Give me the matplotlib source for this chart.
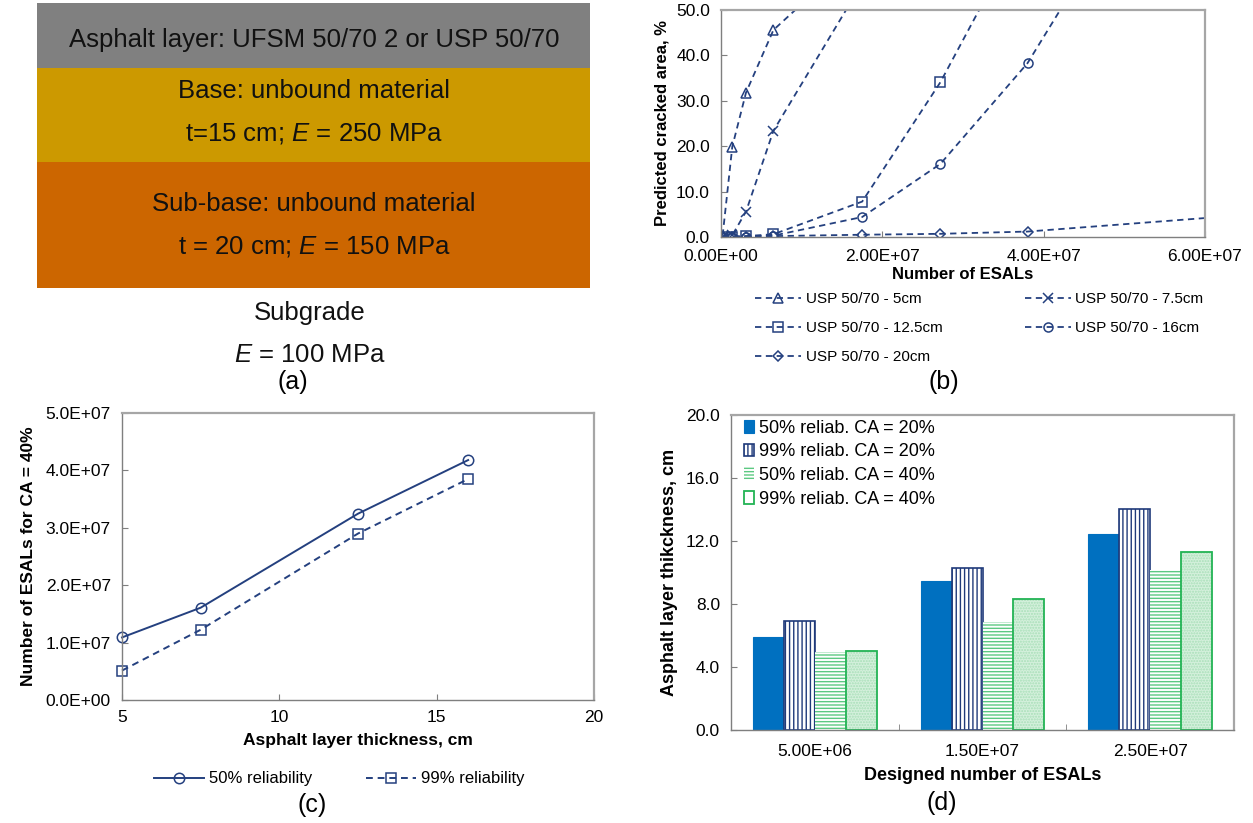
import matplotlib.pyplot as plt
from matplotlib.patches import Rectangle
from matplotlib.ticker import FuncFormatter, FixedLocator

plt.rcParams["font.family"] = ["Liberation Sans", "DejaVu Sans"]
plt.rcParams["mathtext.fontset"] = "custom"
plt.rcParams["mathtext.rm"] = "Liberation Sans"
plt.rcParams["mathtext.it"] = "Liberation Sans:italic"
plt.rcParams["hatch.linewidth"] = 1.0

# (a) pavement structure
layer_labels = [
    ["Asphalt layer: UFSM 50/70 2 or USP 50/70"],
    ["Base: unbound material", "t=15 cm; $E$ = 250 MPa"],
    ["Sub-base: unbound material", "t = 20 cm; $E$ = 150 MPa"],
]
layer_colors = ["#808080", "#CC9900", "#CC6600"]
subgrade_labels = ["Subgrade", "$E$ = 100 MPa"]

# (b) predicted cracked area vs ESALs
series_b = ["USP 50/70 - 5cm", "USP 50/70 - 7.5cm", "USP 50/70 - 12.5cm",
            "USP 50/70 - 16cm", "USP 50/70 - 20cm"]
esal_5cm = [2e5, 1.4e6, 3.1e6, 6.5e6, 1.75e7]
ca_5cm = [0.3, 19.9, 31.8, 45.6, 63.5]
esal_7_5cm = [2e5, 1.4e6, 3.1e6, 6.5e6, 1.75e7]
ca_7_5cm = [0.1, 0.4, 5.6, 23.4, 55.9]
esal_12_5cm = [2e5, 1.4e6, 3.1e6, 6.5e6, 1.75e7, 2.72e7, 3.8e7]
ca_12_5cm = [0.1, 0.1, 0.2, 0.6, 7.8, 34.1, 69.9]
esal_16cm = [2e5, 1.4e6, 3.1e6, 6.5e6, 1.75e7, 2.72e7, 3.8e7, 5.0e7]
ca_16cm = [0.1, 0.1, 0.1, 0.3, 4.4, 16.1, 38.3, 73.0]
esal_20cm = [2e5, 1.4e6, 3.1e6, 6.5e6, 1.75e7, 2.72e7, 3.8e7, 7.5e7]
ca_20cm = [0.0, 0.0, 0.1, 0.2, 0.5, 0.7, 1.2, 6.2]
markers_b = ["^", "x", "s", "o", "D"]

# (c) ESALs to reach CA = 40%
thickness = [5, 7.5, 12.5, 16]
esal_50 = [1.09e7, 1.608e7, 3.246e7, 4.18e7]
esal_99 = [0.513e7, 1.224e7, 2.90e7, 3.85e7]

# (d) designed thickness
design_esals = ["5.00E+06", "1.50E+07", "2.50E+07"]
thick_50_ca20 = [5.9, 9.44, 12.44]
thick_99_ca20 = [6.92, 10.3, 14.05]
thick_50_ca40 = [4.95, 6.88, 10.16]
thick_99_ca40 = [5.0, 8.3, 11.32]
labels_d = ["50% reliab. CA = 20%", "99% reliab. CA = 20%",
            "50% reliab. CA = 40%", "99% reliab. CA = 40%"]

navy = "#24407F"
W, H = 1253, 823

fig = plt.figure(figsize=(W / 100, H / 100), dpi=100)


def px_axes(left, top, right, bottom):
    return fig.add_axes([left / W, 1 - bottom / H, (right - left) / W, (bottom - top) / H])


# ---- panel (a): drawn in pixel coordinates of the figure
ax_a = fig.add_axes([0, 0, 1, 1], zorder=-1)
ax_a.set_xlim(0, W)
ax_a.set_ylim(H, 0)
ax_a.axis("off")
bounds = [3, 68, 162, 288]
text_rows = [[40], [91, 133], [204, 246]]
for i, (lines, col) in enumerate(zip(layer_labels, layer_colors)):
    top, bot = bounds[i], bounds[i + 1]
    ax_a.add_patch(Rectangle((37, top), 553, bot - top, facecolor=col, edgecolor="none"))
    for txt, yc in zip(lines, text_rows[i]):
        ax_a.text(314, yc, txt, ha="center", va="center", fontsize=18.5, color="#111111")
for txt, yc in zip(subgrade_labels, [313, 355]):
    ax_a.text(310, yc, txt, ha="center", va="center", fontsize=18.5, color="#111111")
for lbl, (px, py) in zip(["(a)", "(b)", "(c)", "(d)"],
                         [(293, 382), (944, 382), (312, 805), (942, 803)]):
    ax_a.text(px, py, lbl, ha="center", va="center", fontsize=18)


def style_spines(ax):
    for side in ["left", "bottom"]:
        ax.spines[side].set_color("#7F7F7F")
        ax.spines[side].set_linewidth(1.0)
    for side in ["top", "right"]:
        ax.spines[side].set_color("#A6A6A6")
        ax.spines[side].set_linewidth(1.6)
    ax.tick_params(direction="in", length=4, color="#7F7F7F", labelsize=12.5, pad=8)


# ---- panel (b)
ax_b = px_axes(721, 10, 1205, 237)
series_xy = [(esal_5cm, ca_5cm), (esal_7_5cm, ca_7_5cm), (esal_12_5cm, ca_12_5cm),
             (esal_16cm, ca_16cm), (esal_20cm, ca_20cm)]
handles = []
for (xs, ys), name, mk in zip(series_xy, series_b, markers_b):
    h, = ax_b.plot(xs, ys, color=navy, lw=1.3, ls=(0, (3.5, 2.5)), marker=mk,
                   ms=6.5 if mk != "D" else 5.5, mfc="none", mec=navy, mew=1.1, label=name)
    handles.append(h)
ax_b.set_xlim(0, 6e7)
ax_b.set_ylim(0, 50)
ax_b.set_xticks([0, 2e7, 4e7, 6e7])
ax_b.set_yticks([0, 10, 20, 30, 40, 50])
ax_b.xaxis.set_major_formatter(FuncFormatter(lambda v, p: f"{v:.2E}"))
ax_b.yaxis.set_major_formatter(FuncFormatter(lambda v, p: f"{v:.1f}"))
style_spines(ax_b)
ax_b.tick_params(axis="x", pad=9)
ax_b.set_xlabel("Number of ESALs", fontsize=12, fontweight="bold", labelpad=2)
ax_b.set_ylabel("Predicted cracked area, %", fontsize=12, fontweight="bold", labelpad=5)
order = [0, 2, 4, 1, 3]
ax_b.legend([handles[i] for i in order], [series_b[i] for i in order],
            ncol=2, loc="upper left", bbox_to_anchor=(0.058, -0.215), frameon=False,
            fontsize=11, handlelength=3.0, labelspacing=0.98, columnspacing=5.4,
            handletextpad=0.3, borderaxespad=0)

# ---- panel (c)
ax_c = px_axes(122, 413, 594, 700)
ax_c.plot(thickness, esal_50, color=navy, lw=1.4, marker="o", ms=7.5, mfc="none",
          mec=navy, mew=1.1, label="50% reliability", clip_on=False)
ax_c.plot(thickness, esal_99, color=navy, lw=1.4, ls=(0, (3.5, 2.5)), marker="s", ms=7,
          mfc="none", mec=navy, mew=1.1, label="99% reliability", clip_on=False)
ax_c.set_xlim(5, 20)
ax_c.set_ylim(0, 5e7)
ax_c.set_xticks([5, 10, 15, 20])
ax_c.set_yticks([0, 1e7, 2e7, 3e7, 4e7, 5e7])
ax_c.yaxis.set_major_formatter(FuncFormatter(lambda v, p: f"{v:.1E}"))
style_spines(ax_c)
ax_c.tick_params(axis="x", pad=7)
ax_c.set_xlabel("Asphalt layer thickness, cm", fontsize=12.5, fontweight="bold", labelpad=6)
ax_c.set_ylabel("Number of ESALs for CA = 40%", fontsize=12.5, fontweight="bold", labelpad=7)
ax_c.legend(ncol=2, loc="center", bbox_to_anchor=(0.46, -0.275), frameon=False,
            fontsize=12, handlelength=3.0, columnspacing=3.2, handletextpad=0.3)

# ---- panel (d)
ax_d = px_axes(731, 415, 1234, 730)
pos = list(range(len(design_esals)))
w = 0.184
b1 = ax_d.bar([p - 1.5 * w for p in pos], thick_50_ca20, w, color="#0070C0",
              edgecolor="#0070C0", lw=0.8, label=labels_d[0])
b2 = ax_d.bar([p - 0.5 * w for p in pos], thick_99_ca20, w, color="white",
              edgecolor="#1F3A7A", hatch="||||", lw=1.2, label=labels_d[1])
b3 = ax_d.bar([p + 0.5 * w for p in pos], thick_50_ca40, w, color="white",
              edgecolor="#5CC982", hatch="-----", lw=0, label=labels_d[2])
ax_d.bar([p + 1.5 * w for p in pos], thick_99_ca40, w, color="#D4F0DC",
         edgecolor="#A8DFB8", hatch="......", lw=0)
b4 = ax_d.bar([p + 1.5 * w for p in pos], thick_99_ca40, w, color="none",
              edgecolor="#22B354", lw=1.3, label=labels_d[3])
ax_d.set_xlim(-0.5, 2.5)
ax_d.set_ylim(0, 20)
ax_d.set_xticks(pos)
ax_d.set_xticklabels(design_esals)
ax_d.xaxis.set_minor_locator(FixedLocator([0.5, 1.5]))
ax_d.set_yticks([0, 4, 8, 12, 16, 20])
ax_d.yaxis.set_major_formatter(FuncFormatter(lambda v, p: f"{v:.1f}"))
style_spines(ax_d)
ax_d.tick_params(axis="x", which="major", length=0, pad=10)
ax_d.tick_params(axis="x", which="minor", direction="in", length=4, color="#7F7F7F")
ax_d.set_xlabel("Designed number of ESALs", fontsize=13, fontweight="bold", labelpad=6)
ax_d.set_ylabel("Asphalt layer thikckness, cm", fontsize=13, fontweight="bold", labelpad=6)
ax_d.legend(handles=[b1, b2, b3, b4], loc="upper left", bbox_to_anchor=(0.0, 1.025),
            frameon=False, fontsize=13, handlelength=0.6, handleheight=0.7,
            handletextpad=0.25, labelspacing=0.37, borderaxespad=0.3)

fig.savefig("out.png", dpi=100)
